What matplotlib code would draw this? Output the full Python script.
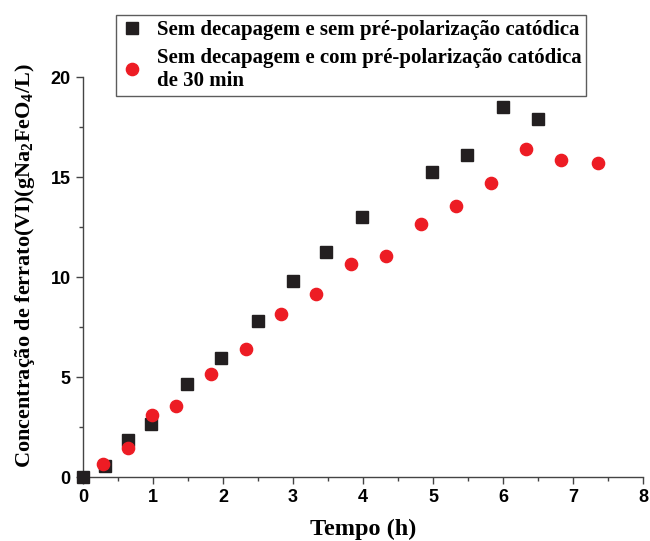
import numpy as np
import matplotlib
matplotlib.use('Agg')
import matplotlib.pyplot as plt
from matplotlib.ticker import MultipleLocator

# dados
t_sem = [0.0, 0.31, 0.64, 0.97, 1.49, 1.97, 2.50, 3.00, 3.47, 3.99, 4.99, 5.49, 6.00, 6.50]
c_sem = [0.0, 0.55, 1.85, 2.65, 4.65, 5.95, 7.80, 9.80, 11.25, 13.0, 15.25, 16.10, 18.50, 17.92]

t_com = [0.29, 0.64, 0.99, 1.33, 1.83, 2.33, 2.83, 3.33, 3.83, 4.33, 4.83, 5.33, 5.83, 6.33, 6.83, 7.35]
c_com = [0.65, 1.45, 3.10, 3.55, 5.15, 6.40, 8.15, 9.15, 10.63, 11.03, 12.63, 13.55, 14.70, 16.40, 15.85, 15.70]

label_sem = 'Sem decapagem e sem pré-polarização catódica'
label_com = 'Sem decapagem e com pré-polarização catódica\nde 30 min'

plt.rcParams['mathtext.default'] = 'regular'

fig = plt.figure(figsize=(6.5, 5.41), dpi=100)
ax = fig.add_axes([83/650, 64/541, 560/650, 400/541])

ax.plot(t_sem, c_sem, 's', color='#231f20', markersize=8, linestyle='none', label=label_sem, clip_on=False, zorder=3)
ax.plot(t_com, c_com, 'o', color='#ed1c24', markersize=8.8, linestyle='none', label=label_com, clip_on=False, zorder=3)

ax.set_xlim(0, 8)
ax.set_ylim(0, 20)
ax.xaxis.set_major_locator(MultipleLocator(1))
ax.xaxis.set_minor_locator(MultipleLocator(0.5))
ax.yaxis.set_major_locator(MultipleLocator(5))
ax.yaxis.set_minor_locator(MultipleLocator(2.5))

for s in ['top', 'right']:
    ax.spines[s].set_visible(False)
for s in ['left', 'bottom']:
    ax.spines[s].set_color('#444444')
    ax.spines[s].set_linewidth(1.0)

ax.tick_params(which='major', direction='out', length=5, width=1, color='#444444', pad=4)
ax.tick_params(which='minor', direction='out', length=3, width=1, color='#444444')
for lab in ax.get_xticklabels() + ax.get_yticklabels():
    lab.set_fontfamily('Liberation Sans')
    lab.set_fontweight('bold')
    lab.set_fontsize(13)

ax.set_xlabel('Tempo (h)', fontfamily='Liberation Serif', fontweight='bold', fontsize=17.5, labelpad=9)
ax.set_ylabel('Concentração de ferrato(VI)(gNa$_2$FeO$_4$/L)', fontfamily='Liberation Serif',
              fontweight='bold', fontsize=16)
ax.yaxis.set_label_coords(-0.083, 0.528)

leg = fig.legend(loc='upper left', bbox_to_anchor=(116/650, 1 - 15/541),
                 prop={'family': 'Liberation Serif', 'weight': 'bold', 'size': 15},
                 frameon=True, fancybox=False, edgecolor='#333333', handletextpad=0.7,
                 borderpad=0.25, labelspacing=0.35, handlelength=1.0, borderaxespad=0)
leg.get_frame().set_linewidth(1.0)

fig.savefig('out.png', dpi=100)
